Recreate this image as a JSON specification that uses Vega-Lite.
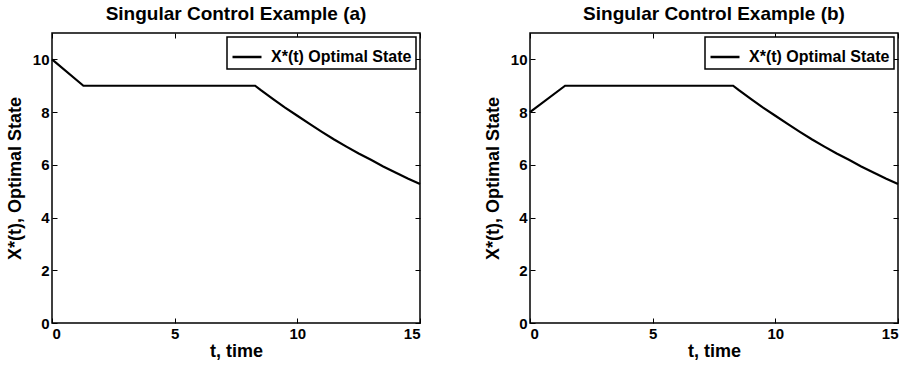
{
  "$schema": "https://vega.github.io/schema/vega-lite/v6.json",
  "background": "white",
  "padding": {"left": 5, "top": 3, "right": 4, "bottom": 4},
  "datasets": {
    "a": [
      {"t": 0, "x": 10, "s": "X*(t) Optimal State"},
      {"t": 1.28, "x": 9, "s": "X*(t) Optimal State"},
      {"t": 8.28, "x": 9, "s": "X*(t) Optimal State"},
      {"t": 8.5, "x": 8.84, "s": "X*(t) Optimal State"},
      {"t": 9, "x": 8.5, "s": "X*(t) Optimal State"},
      {"t": 9.5, "x": 8.17, "s": "X*(t) Optimal State"},
      {"t": 10, "x": 7.86, "s": "X*(t) Optimal State"},
      {"t": 10.5, "x": 7.55, "s": "X*(t) Optimal State"},
      {"t": 11, "x": 7.25, "s": "X*(t) Optimal State"},
      {"t": 11.5, "x": 6.96, "s": "X*(t) Optimal State"},
      {"t": 12, "x": 6.69, "s": "X*(t) Optimal State"},
      {"t": 12.5, "x": 6.43, "s": "X*(t) Optimal State"},
      {"t": 13, "x": 6.19, "s": "X*(t) Optimal State"},
      {"t": 13.5, "x": 5.94, "s": "X*(t) Optimal State"},
      {"t": 14, "x": 5.71, "s": "X*(t) Optimal State"},
      {"t": 14.5, "x": 5.48, "s": "X*(t) Optimal State"},
      {"t": 15, "x": 5.27, "s": "X*(t) Optimal State"}
    ],
    "b": [
      {"t": 0, "x": 8, "s": "X*(t) Optimal State"},
      {"t": 1.43, "x": 9, "s": "X*(t) Optimal State"},
      {"t": 8.28, "x": 9, "s": "X*(t) Optimal State"},
      {"t": 8.5, "x": 8.84, "s": "X*(t) Optimal State"},
      {"t": 9, "x": 8.5, "s": "X*(t) Optimal State"},
      {"t": 9.5, "x": 8.17, "s": "X*(t) Optimal State"},
      {"t": 10, "x": 7.86, "s": "X*(t) Optimal State"},
      {"t": 10.5, "x": 7.55, "s": "X*(t) Optimal State"},
      {"t": 11, "x": 7.25, "s": "X*(t) Optimal State"},
      {"t": 11.5, "x": 6.96, "s": "X*(t) Optimal State"},
      {"t": 12, "x": 6.69, "s": "X*(t) Optimal State"},
      {"t": 12.5, "x": 6.43, "s": "X*(t) Optimal State"},
      {"t": 13, "x": 6.19, "s": "X*(t) Optimal State"},
      {"t": 13.5, "x": 5.94, "s": "X*(t) Optimal State"},
      {"t": 14, "x": 5.71, "s": "X*(t) Optimal State"},
      {"t": 14.5, "x": 5.48, "s": "X*(t) Optimal State"},
      {"t": 15, "x": 5.27, "s": "X*(t) Optimal State"}
    ]
  },
  "config": {
    "font": "Liberation Sans",
    "view": {"stroke": "black", "strokeWidth": 1.5},
    "title": {"fontSize": 19, "fontWeight": "bold", "color": "black", "offset": 9},
    "axis": {
      "grid": false,
      "domain": false,
      "tickColor": "black",
      "tickSize": -5,
      "tickWidth": 1,
      "labelFont": "Liberation Sans",
      "labelFontSize": 15,
      "labelFontWeight": "bold",
      "labelColor": "black",
      "titleFont": "Liberation Sans",
      "titleFontSize": 18,
      "titleFontWeight": "bold",
      "titleColor": "black",
      "labelPadding": 8
    },
    "legend": {
      "orient": "top-right",
      "title": null,
      "strokeColor": "black",
      "strokeWidth": 1.5,
      "fillColor": "white",
      "padding": 4,
      "offset": 4,
      "labelFont": "Liberation Sans",
      "labelFontSize": 16,
      "labelFontWeight": "bold",
      "labelColor": "black",
      "labelOffset": 8,
      "symbolType": "stroke",
      "symbolSize": 841,
      "symbolStrokeWidth": 2.5,
      "symbolStrokeColor": "black",
      "cornerRadius": 0
    }
  },
  "hconcat": [
    {
      "title": "Singular Control Example (a)",
      "width": 368,
      "height": 290,
      "data": {"name": "a"},
      "layer": [
        {
          "mark": {"type": "line", "strokeWidth": 2.2},
          "encoding": {
            "x": {"field": "t", "type": "quantitative", "scale": {"domain": [0, 15], "nice": false}, "axis": {"orient": "bottom", "title": "t, time", "values": [0, 5, 10, 15], "titlePadding": 1}},
            "y": {"field": "x", "type": "quantitative", "scale": {"domain": [0, 11], "nice": false}, "axis": {"orient": "left", "title": "X*(t), Optimal State", "values": [0, 2, 4, 6, 8, 10], "titlePadding": 8}},
            "color": {"field": "s", "type": "nominal", "scale": {"range": ["black"]}, "legend": {}}
          }
        },
        {
          "mark": {"type": "line", "opacity": 0},
          "encoding": {
            "x": {"field": "t", "type": "quantitative", "axis": {"orient": "top", "title": null, "labels": false, "values": [0, 5, 10, 15]}},
            "y": {"field": "x", "type": "quantitative", "axis": {"orient": "right", "title": null, "labels": false, "values": [0, 2, 4, 6, 8, 10]}}
          }
        }
      ],
      "resolve": {"axis": {"x": "independent", "y": "independent"}}
    },
    {
      "title": "Singular Control Example (b)",
      "width": 368,
      "height": 290,
      "data": {"name": "b"},
      "layer": [
        {
          "mark": {"type": "line", "strokeWidth": 2.2},
          "encoding": {
            "x": {"field": "t", "type": "quantitative", "scale": {"domain": [0, 15], "nice": false}, "axis": {"orient": "bottom", "title": "t, time", "values": [0, 5, 10, 15], "titlePadding": 1}},
            "y": {"field": "x", "type": "quantitative", "scale": {"domain": [0, 11], "nice": false}, "axis": {"orient": "left", "title": "X*(t), Optimal State", "values": [0, 2, 4, 6, 8, 10], "titlePadding": 8}},
            "color": {"field": "s", "type": "nominal", "scale": {"range": ["black"]}, "legend": {}}
          }
        },
        {
          "mark": {"type": "line", "opacity": 0},
          "encoding": {
            "x": {"field": "t", "type": "quantitative", "axis": {"orient": "top", "title": null, "labels": false, "values": [0, 5, 10, 15]}},
            "y": {"field": "x", "type": "quantitative", "axis": {"orient": "right", "title": null, "labels": false, "values": [0, 2, 4, 6, 8, 10]}}
          }
        }
      ],
      "resolve": {"axis": {"x": "independent", "y": "independent"}}
    }
  ],
  "spacing": 57,
  "resolve": {"scale": {"color": "independent"}, "legend": {"color": "independent"}}
}
